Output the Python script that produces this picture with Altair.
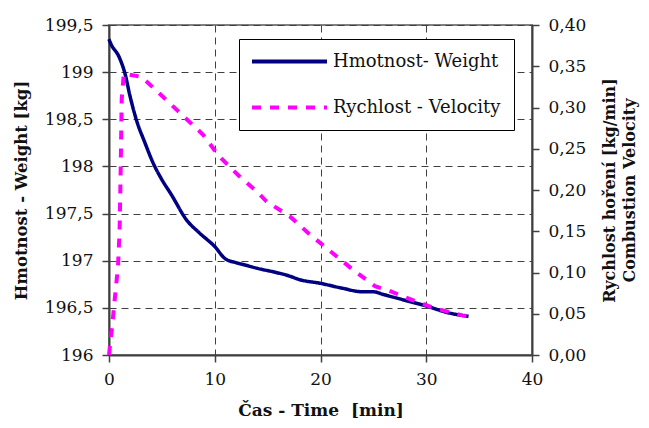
import altair as alt
import pandas as pd

series_names = ["Hmotnost- Weight", "Rychlost - Velocity"]
series_colors = ["#000080", "#FF00FF"]

weight_time = [0, 0.1, 1.0, 1.5, 2.0, 2.6, 3.4, 4.2, 5.0, 5.9, 7.35, 8.5, 10, 11, 12, 13, 14,
               16, 17, 18, 20, 22, 24, 25, 26, 28, 30, 32, 34]
weight_kg = [199.35, 199.32, 199.15, 198.99, 198.74, 198.49, 198.25, 198.03, 197.86, 197.70,
             197.43, 197.30, 197.15, 197.02, 196.98, 196.95, 196.92, 196.87, 196.84, 196.80,
             196.76, 196.71, 196.67, 196.67, 196.64, 196.58, 196.52, 196.45, 196.41]

velocity_time = [0, 0.3, 0.6, 0.85, 1.0, 1.1, 1.2, 1.4, 3.1, 5.1, 7.0, 8.9, 10.4, 12.3, 14.0,
                 14.9, 17.1, 19.0, 21.1, 23.1, 25.2, 26.3, 28.0, 30.7, 33.4, 34.0]
velocity = [0, 0.035, 0.075, 0.107, 0.15, 0.22, 0.31, 0.341, 0.337, 0.313, 0.290, 0.267, 0.241,
            0.217, 0.198, 0.186, 0.168, 0.146, 0.124, 0.103, 0.083, 0.079, 0.070, 0.057, 0.048,
            0.047]

x_ticks = [0, 10, 20, 30, 40]
left_ticks = [196, 196.5, 197, 197.5, 198, 198.5, 199, 199.5]
right_ticks = [0.0, 0.05, 0.10, 0.15, 0.20, 0.25, 0.30, 0.35, 0.40]

weight_df = pd.DataFrame({"t": weight_time, "value": weight_kg, "series": series_names[0]})
velocity_df = pd.DataFrame({"t": velocity_time, "value": velocity, "series": series_names[1]})

FONT = "DejaVu Serif"

color_enc = alt.Color("series:N", scale=alt.Scale(domain=series_names, range=series_colors),
                      legend=alt.Legend(title=None))
dash_enc = alt.StrokeDash("series:N", scale=alt.Scale(domain=series_names, range=[[1, 0], [9, 9]]),
                          legend=alt.Legend(title=None))

x_enc = alt.X("t:Q", scale=alt.Scale(domain=[0, 40], nice=False),
              axis=alt.Axis(values=x_ticks, title="Čas - Time\u00a0\u00a0[min]", grid=True,
                            titlePadding=15, labelFlush=False))

weight_line = alt.Chart(weight_df).mark_line(strokeWidth=3.5, interpolate="monotone").encode(
    x=x_enc,
    y=alt.Y("value:Q", scale=alt.Scale(domain=[196, 199.5], nice=False, zero=False),
            axis=alt.Axis(orient="left", values=left_ticks, grid=True,
                          title="Hmotnost - Weight [kg]", titlePadding=15, titleFontSize=16.5,
                          labelExpr="replace(format(datum.value, '~g'), '.', ',')")),
    color=color_enc,
    strokeDash=dash_enc,
)

velocity_line = alt.Chart(velocity_df).mark_line(strokeWidth=4).encode(
    x=x_enc,
    y=alt.Y("value:Q", scale=alt.Scale(domain=[0, 0.4], nice=False),
            axis=alt.Axis(orient="right", values=right_ticks, grid=False,
                          title=["Rychlost hoření [kg/min]", "Combustion Velocity"],
                          titleAngle=270, titlePadding=12, titleLineHeight=20,
                          titleFontSize=16,
                          labelExpr="replace(format(datum.value, '.2f'), '.', ',')")),
    color=color_enc,
    strokeDash=dash_enc,
)

chart = alt.layer(weight_line, velocity_line).resolve_scale(y="independent").properties(
    width=423, height=330,
    autosize=alt.AutoSizeParams(type="none"),
    padding={"left": 101, "top": 17, "right": 109, "bottom": 65},
    background="white",
).configure_view(
    stroke="#808080", strokeWidth=2
).configure_axis(
    labelFont=FONT, labelFontSize=17, labelColor="#111",
    titleFont=FONT, titleFontSize=17, titleFontWeight="bold", titleColor="#111",
    domainColor="#404040", domainWidth=2, tickColor="#404040", tickWidth=1.5, tickSize=7,
    labelPadding=9, gridColor="#404040", gridDash=[7, 5], gridWidth=1,
).configure_legend(
    orient="none", legendX=130, legendY=14,
    symbolType="M-5,0H5", symbolSize=225, symbolStrokeWidth=4, symbolOffset=28,
    labelFont=FONT, labelFontSize=18, labelColor="#111", labelOffset=34, labelLimit=400,
    padding=13, rowPadding=27, strokeColor="black", fillColor="white", cornerRadius=0,
)

chart.save("out.html", embed_options={"renderer": "svg", "actions": False})
